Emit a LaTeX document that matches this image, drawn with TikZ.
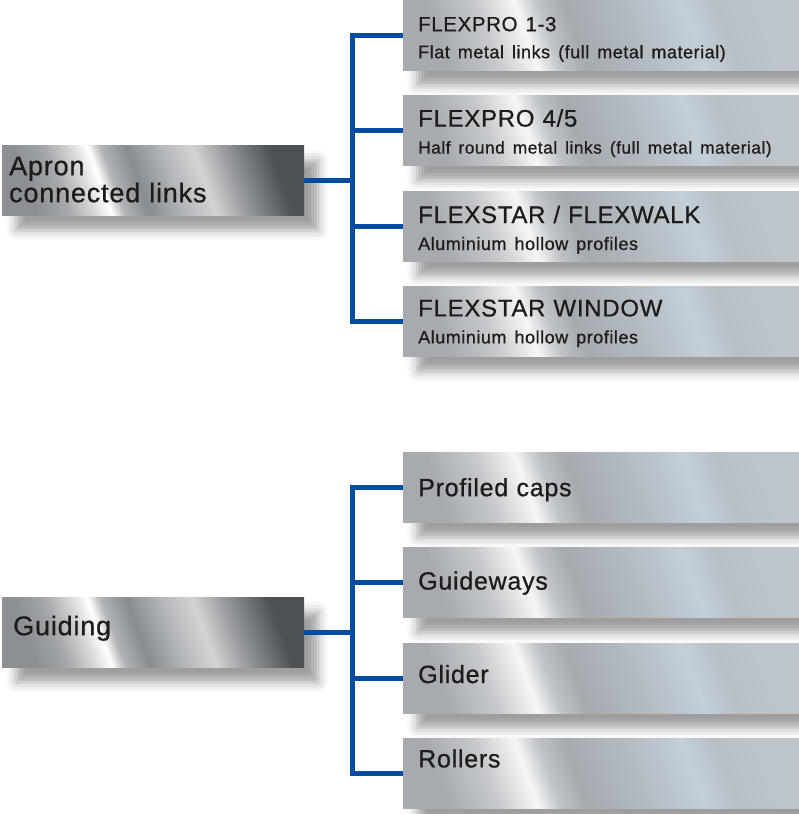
\documentclass[tikz,border=0pt]{standalone}
\usepackage{fontspec}
\setmainfont{Liberation Sans}[LetterSpace=3, FakeBold=0.7]
\usetikzlibrary{positioning, shadows.blur}

\definecolor{linkblue}{RGB}{0,76,160}
\definecolor{ink}{RGB}{30,27,28}

\pgfdeclarehorizontalshading{steelleft}{100bp}{rgb(0bp)=(.55,.565,.58); rgb(25bp)=(.55,.565,.58);
  rgb(31bp)=(.65,.66,.67); rgb(36bp)=(.84,.845,.85); rgb(39.5bp)=(1,1,1); rgb(42bp)=(.70,.71,.72);
  rgb(47bp)=(.53,.55,.565); rgb(54bp)=(.71,.72,.73); rgb(60bp)=(.82,.83,.835); rgb(66bp)=(.6,.61,.62);
  rgb(75bp)=(.30,.32,.33); rgb(100bp)=(.30,.32,.33)}
\pgfdeclarehorizontalshading{steelright}{100bp}{rgb(0bp)=(.655,.67,.69); rgb(25bp)=(.655,.67,.69);
  rgb(32.5bp)=(.78,.79,.80); rgb(38.5bp)=(.96,.965,.97); rgb(42bp)=(.75,.765,.78); rgb(46bp)=(.65,.67,.69);
  rgb(55bp)=(.70,.73,.76); rgb(64bp)=(.77,.81,.84); rgb(69bp)=(.72,.75,.78); rgb(75bp)=(.74,.77,.80);
  rgb(100bp)=(.74,.77,.80)}

\newcommand{\bighead}{\fontsize{27}{27}\selectfont}
\newcommand{\midhead}{\fontsize{24}{27}\selectfont}
\newcommand{\subline}{\fontsize{18}{27}\selectfont}

\begin{document}
\begin{tikzpicture}[x=1pt, y=-1pt, node distance=25pt,
    box/.style 2 args={anchor=north west, inner ysep=0pt, align=left, text=ink,
      text height=#1, text depth=#2, shade,
      blur shadow={shadow xshift=14pt, shadow yshift=-15pt, shadow blur radius=10pt, shadow opacity=38}},
    group/.style 2 args={box={#1}{#2}, shading=steelleft, shading angle=20,
      inner xsep=7pt, text width=288pt, font=\bighead},
    item/.style 2 args={box={#1}{#2}, shading=steelright, shading angle=20,
      inner xsep=15pt, text width=367pt, font=\midhead},
    link/.style={draw=linkblue, line width=5pt}]
  \useasboundingbox (0,0) rectangle (799,814);

  % apron connected links
  \node[group={30pt}{40pt}] (apron) at (2,145) {Apron\\connected links};
  \node[item={31pt}{39pt}] (p1) at (403,0)
    {{\fontsize{20.5}{27}\selectfont FLEXPRO 1-3}\\\subline Flat metal links (full metal material)};
  \node[item={31pt}{39pt}, below=of p1] (p2)
    {FLEXPRO 4/5\\{\fontsize{17.3}{27}\selectfont Half round metal links (full metal material)}};
  \node[item={32pt}{38pt}, below=of p2] (p3)
    {FLEXSTAR / FLEXWALK\\\subline Aluminium hollow profiles};
  \node[item={30pt}{40pt}, below=of p3] (p4)
    {FLEXSTAR WINDOW\\\subline Aluminium hollow profiles};

  % guiding
  \node[group={38pt}{32pt}] (guiding) at (2,597) {\hspace{4pt}Guiding};
  \node[item={44pt}{26pt}, font=\fontsize{25}{27}\selectfont] (g1) at (403,452) {Profiled caps};
  \node[item={42pt}{28pt}, font=\fontsize{25}{27}\selectfont, below=of g1] (g2) {Guideways};
  \node[item={40pt}{30pt}, font=\fontsize{25}{27}\selectfont, below=of g2] (g3) {Glider};
  \node[item={29pt}{41pt}, font=\fontsize{25}{27}\selectfont, below=of g3] (g4) {Rollers};

  \coordinate[right=48pt of apron.east] (ja);
  \coordinate[right=48pt of guiding.east] (jg);
  \draw[link] (apron.east) -- (ja);
  \draw[link] (guiding.east) -- (jg);
  \foreach \n in {p1,p2,p3,p4}
    \draw[link] (ja) |- (\n.west);
  \foreach \n in {g1,g2,g3,g4}
    \draw[link] (jg) |- (\n.west);
\end{tikzpicture}
\end{document}
